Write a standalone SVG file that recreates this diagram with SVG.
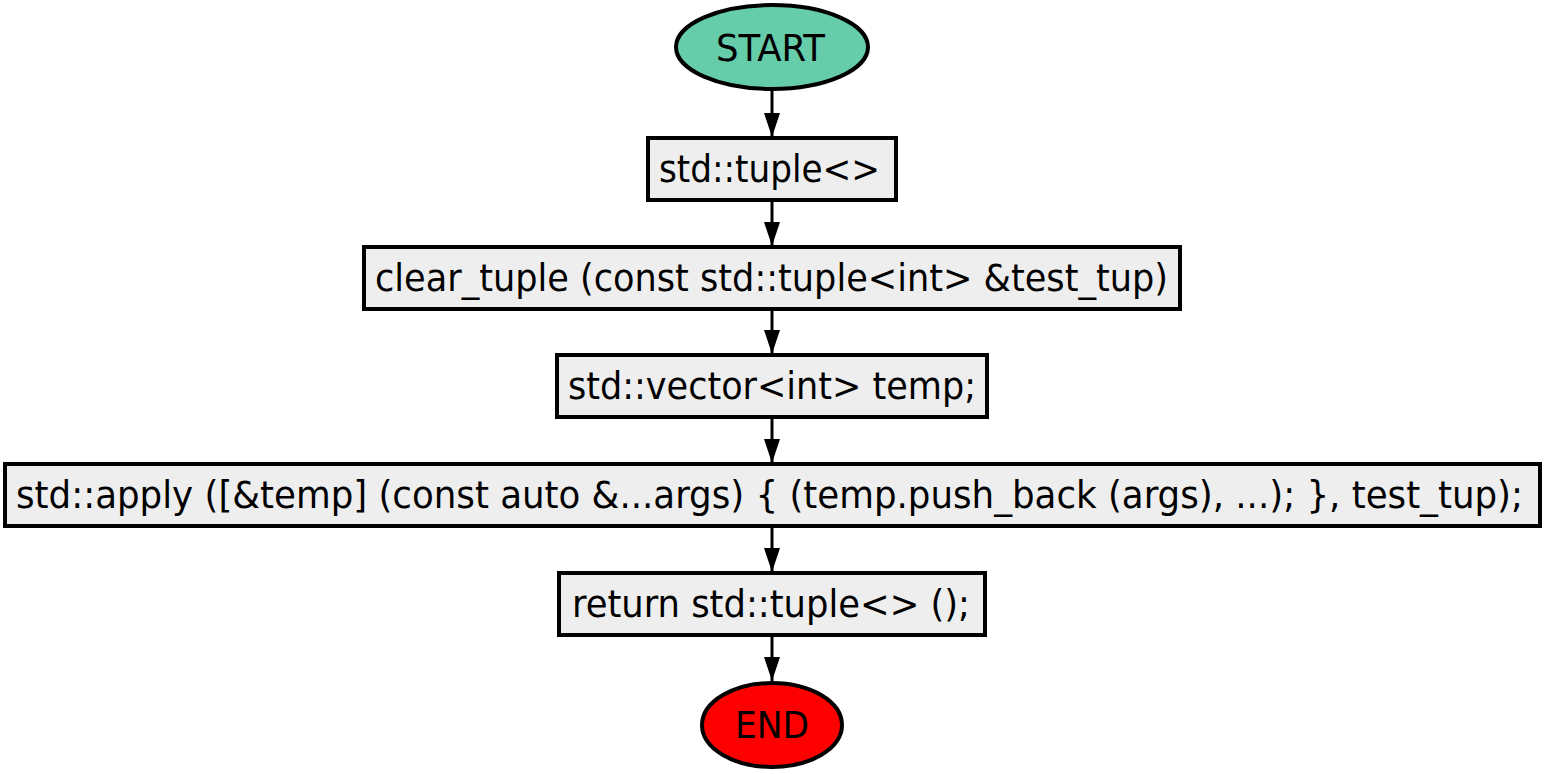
<svg xmlns="http://www.w3.org/2000/svg" width="1545" height="774" viewBox="0 0 1545 774">
<style>
text{font-family:"DejaVu Sans Condensed","DejaVu Sans","Liberation Sans",sans-serif;font-size:37px;fill:#000}
.box{fill:#eeeeee;stroke:#000;stroke-width:4}
.edge{stroke:#000;stroke-width:3;fill:none}
</style>
<defs>
<marker id="arr" markerWidth="24" markerHeight="16" refX="24" refY="8" orient="auto" markerUnits="userSpaceOnUse">
<path d="M0,0 L24,8 L0,16 Z" fill="#000"/>
</marker>
</defs>
<rect width="1545" height="774" fill="#fff"/>
<g id="connectors">
<line class="edge" x1="772" y1="90" x2="772" y2="137" marker-end="url(#arr)"/>
<line class="edge" x1="772" y1="201" x2="772" y2="246" marker-end="url(#arr)"/>
<line class="edge" x1="772" y1="309" x2="772" y2="354" marker-end="url(#arr)"/>
<line class="edge" x1="772" y1="417" x2="772" y2="463" marker-end="url(#arr)"/>
<line class="edge" x1="772" y1="527" x2="772" y2="572" marker-end="url(#arr)"/>
<line class="edge" x1="772" y1="635" x2="772" y2="681" marker-end="url(#arr)"/>
</g>
<g id="start">
<ellipse cx="772" cy="47" rx="96" ry="42" fill="#66cdaa" stroke="#000" stroke-width="4"/>
<text x="716" y="61" textLength="109" lengthAdjust="spacingAndGlyphs">START</text>
</g>
<g id="n1">
<rect class="box" x="648" y="138" width="248" height="62"/>
<text x="659" y="182" textLength="221" lengthAdjust="spacingAndGlyphs">std::tuple&lt;&gt;</text>
</g>
<g id="n2">
<rect class="box" x="364" y="247" width="816" height="62"/>
<text x="375" y="291" textLength="793" lengthAdjust="spacingAndGlyphs">clear_tuple (const std::tuple&lt;int&gt; &amp;test_tup)</text>
</g>
<g id="n3">
<rect class="box" x="557" y="355" width="430" height="62"/>
<text x="568" y="399" textLength="408" lengthAdjust="spacingAndGlyphs">std::vector&lt;int&gt; temp;</text>
</g>
<g id="n4">
<rect class="box" x="5" y="464" width="1535" height="62"/>
<text x="16" y="508" textLength="1507" lengthAdjust="spacingAndGlyphs">std::apply ([&amp;temp] (const auto &amp;...args) { (temp.push_back (args), ...); }, test_tup);</text>
</g>
<g id="n5">
<rect class="box" x="559" y="573" width="426" height="62"/>
<text x="572" y="617" textLength="398" lengthAdjust="spacingAndGlyphs">return std::tuple&lt;&gt; ();</text>
</g>
<g id="end">
<ellipse cx="772" cy="725" rx="70" ry="42" fill="#ff0000" stroke="#000" stroke-width="4"/>
<text x="735" y="738" textLength="74" lengthAdjust="spacingAndGlyphs">END</text>
</g>
</svg>
